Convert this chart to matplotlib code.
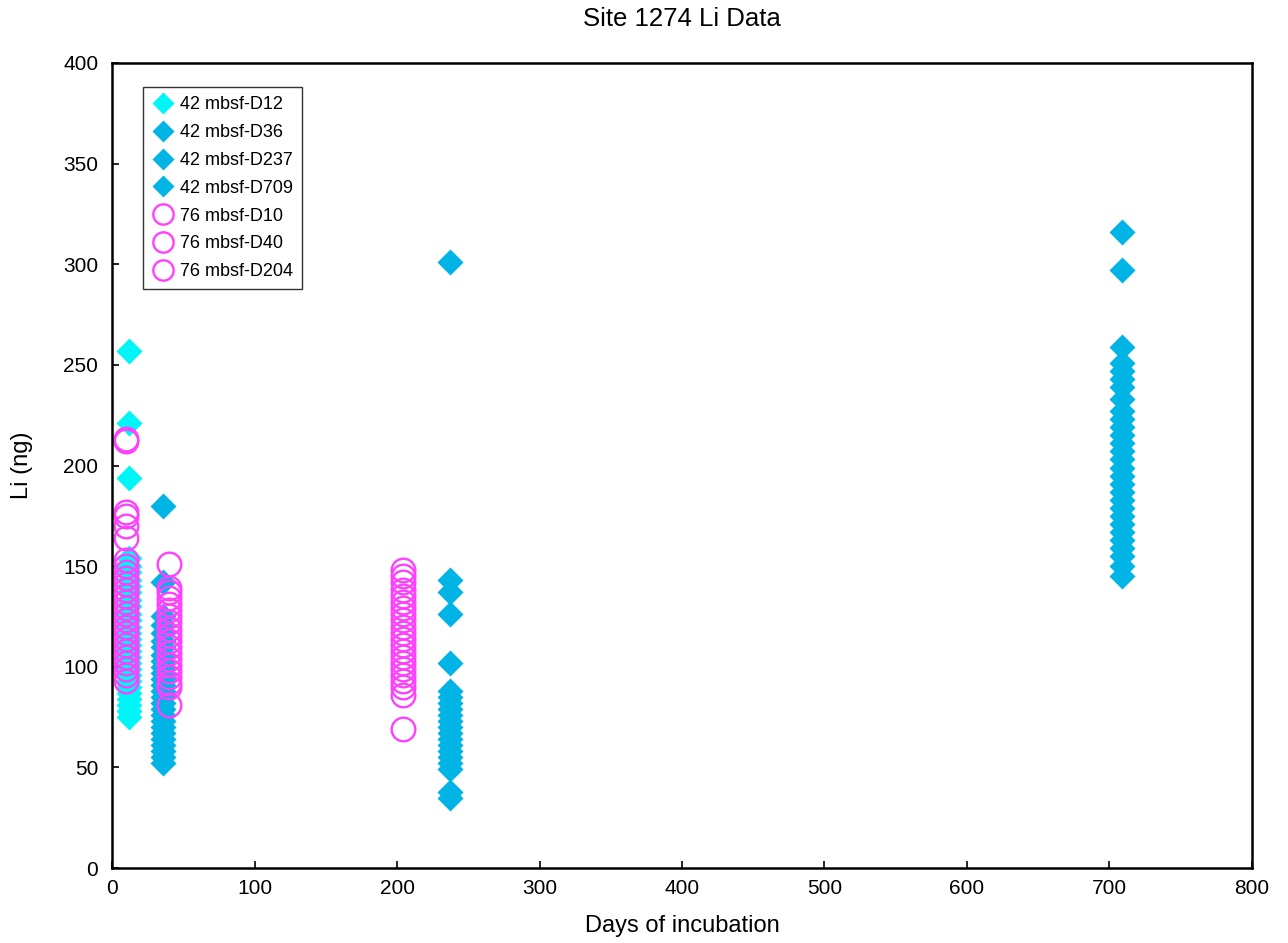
import matplotlib.pyplot as plt

plt.rcParams['font.family'] = ['Liberation Sans', 'DejaVu Sans']

# days of incubation for each series
d12_day, d36_day, d237_day, d709_day = 12, 36, 237, 709
d10_day, d40_day, d204_day = 10, 40, 204

# Li (ng) values
d12_li = [257, 221, 194, 154, 150, 147, 143, 140, 137, 133, 130, 126, 123, 120, 117,
          114, 111, 108, 105, 102, 99, 96, 93, 90, 87, 84, 81, 78, 75]
d36_li = [180, 142, 125, 121, 117, 113, 110, 106, 103, 100, 97, 94, 91, 88, 85, 82,
          79, 76, 73, 70, 67, 64, 61, 58, 55, 52]
d237_li = [301, 143, 137, 126, 102, 88, 85, 82, 79, 76, 73, 70, 67, 64, 61, 58, 55,
           52, 49, 38, 35]
d709_li = [316, 297, 259, 251, 247, 243, 239, 233, 227, 223, 219, 215, 211, 207, 203,
           199, 195, 191, 187, 183, 179, 175, 171, 167, 163, 159, 155, 150, 145]
d10_li = [213, 212, 177, 175, 170, 164, 153, 150, 147, 144, 141, 138, 135, 132, 129,
          126, 123, 120, 117, 114, 111, 108, 105, 102, 99, 96, 93]
d40_li = [151, 139, 137, 134, 131, 128, 125, 122, 119, 116, 113, 110, 107, 104, 101,
          98, 95, 92, 90, 81]
d204_li = [148, 145, 142, 138, 135, 132, 129, 126, 123, 120, 117, 114, 111, 108, 105,
           102, 99, 96, 93, 90, 86, 69]

cyan = '#00F6F6'
blue = '#00B4E6'
pink = '#FF40FF'

fig = plt.figure(figsize=(12.88, 9.43), dpi=100)
ax = fig.add_axes([0.087, 0.0795, 0.885, 0.8537])

diamonds = [(d12_day, d12_li, cyan, '42 mbsf-D12'),
            (d36_day, d36_li, blue, '42 mbsf-D36'),
            (d237_day, d237_li, blue, '42 mbsf-D237'),
            (d709_day, d709_li, blue, '42 mbsf-D709')]
for day, li, c, lab in diamonds:
    ax.plot([day] * len(li), li, 'D', ms=13, color=c, mec='none', label=lab)

circles = [(d10_day, d10_li, '76 mbsf-D10'),
           (d40_day, d40_li, '76 mbsf-D40'),
           (d204_day, d204_li, '76 mbsf-D204')]
for day, li, lab in circles:
    ax.plot([day] * len(li), li, 'o', ms=17, mfc='none', mec=pink, mew=1.7,
            label=lab)

ax.set_xlim(0, 800)
ax.set_ylim(0, 400)
ax.set_xticks(range(0, 801, 100))
ax.set_yticks(range(0, 401, 50))
ax.tick_params(direction='in', labelsize=15, length=5, width=1.2)
ax.tick_params(axis='x', pad=8)
ax.tick_params(axis='y', pad=10)
for s in ax.spines.values():
    s.set_linewidth(1.8)
ax.set_xlabel('Days of incubation', fontsize=17, va='center')
ax.xaxis.set_label_coords(0.5, -0.072)
ax.set_ylabel('Li (ng)', fontsize=17, va='center')
ax.yaxis.set_label_coords(-0.079, 0.5)
ax.text(0.5, 1.055, 'Site 1274 Li Data', fontsize=18.5, ha='center', va='center',
        transform=ax.transAxes)

leg = ax.legend(loc='upper left', bbox_to_anchor=(0.0272, 0.970), fontsize=13,
                frameon=True, fancybox=False, edgecolor='black', handletextpad=0.35,
                labelspacing=0.6, borderpad=0.5, handlelength=1.2, markerscale=0.86,
                borderaxespad=0)
leg.get_frame().set_linewidth(1.0)

plt.savefig('out.png')
